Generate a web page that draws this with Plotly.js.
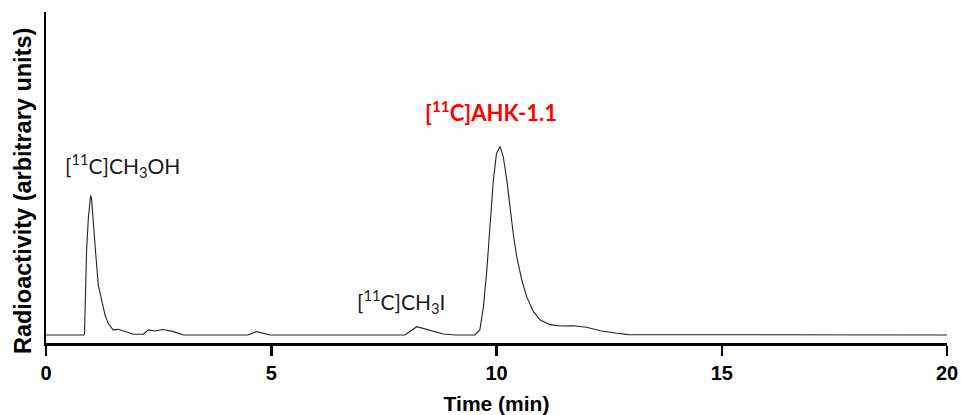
<!DOCTYPE html>
<html>
<head>
<meta charset="utf-8">
<script src="https://cdn.plot.ly/plotly-3.0.1.min.js"></script>
<style>html,body{margin:0;padding:0;background:#fff;}#chart{width:961px;height:415px;}</style>
</head>
<body>
<div id="chart"></div>
<script>
// Retention time (min)
var timeMin = [0, 0.84, 0.855, 0.90, 0.94, 0.99, 1.01, 1.05, 1.10, 1.16, 1.24, 1.31, 1.38, 1.49, 1.60, 1.75, 1.94, 2.16, 2.27, 2.42, 2.60, 2.83, 3.05,
  4.48, 4.68, 4.97, 7.97, 8.23, 8.52, 8.82, 9.08, 9.52, 9.63, 9.71, 9.78, 9.86, 9.93, 10.00, 10.08, 10.15, 10.23, 10.30, 10.37, 10.45, 10.56, 10.67, 10.82,
  10.97, 11.19, 11.41, 11.70, 12.00, 12.30, 12.67, 12.93, 20];
// Radioactivity (arbitrary units)
var radioactivity = [0, 0, 0.5, 44.3, 62.2, 74.1, 72.9, 62.2, 44.3, 26.6, 17.7, 10.6, 6.2, 2.7, 3.0, 1.8, 0.4, 0.4, 2.7, 2.1, 2.9, 1.8, 0,
  0, 1.8, 0, 0, 4.4, 2.3, 0.5, 0, 0, 2.7, 15.1, 32.8, 59.4, 82.4, 96.6, 100.2, 94.8, 82.4, 68.2, 54.1, 41.6, 29.3, 20.4, 12.4,
  8.0, 5.5, 4.8, 4.9, 4.1, 2.3, 0.9, 0.2, 0];
// Peak labels
var labelText = ['[<sup>11</sup>C]CH<sub>3</sub>OH', '[<sup>11</sup>C]CH<sub>3</sub>I', '<b>[<sup>11</sup>C]AHK-1.1</b>'];
var labelTime = [0.38, 6.86, 8.37];
var labelValue = [90.4, 17.6, 119];
var labelSize = [21, 21, 22];
var labelColor = ['#1a1a1a', '#1a1a1a', '#ff0000'];
var xTickVals = [0, 5, 10, 15, 20];
var xTitle = 'Time (min)';
var yTitle = 'Radioactivity (arbitrary units)';

var trace = {
  x: timeMin, y: radioactivity, type: 'scatter', mode: 'lines',
  line: {color: '#222222', width: 1.1, shape: 'linear'},
  hoverinfo: 'x+y', showlegend: false
};

var annotations = labelText.map(function (t, i) {
  return {
    x: labelTime[i], y: labelValue[i], xref: 'x', yref: 'y', text: t, showarrow: false,
    xanchor: 'left', yanchor: 'middle',
    font: {family: 'Lato, "Noto Sans", sans-serif', size: labelSize[i], color: labelColor[i]}
  };
});
// y-axis title (placed as a rotated annotation to match the reference's vertical offset)
annotations.push({
  x: -0.0255, y: 0.459, xref: 'paper', yref: 'paper', text: '<b>' + yTitle + '</b>', showarrow: false,
  textangle: -90, xanchor: 'center', yanchor: 'middle',
  font: {family: 'Arial, "Liberation Sans", sans-serif', size: 23.5, color: '#000'}
});

var layout = {
  width: 961, height: 415,
  margin: {l: 46, r: 14, t: 12, b: 72},
  paper_bgcolor: '#ffffff', plot_bgcolor: '#ffffff',
  xaxis: {
    range: [0, 20], tickmode: 'array', tickvals: xTickVals,
    showgrid: false, zeroline: false, showline: true, linecolor: '#000', linewidth: 2.5,
    ticks: 'outside', ticklen: 10, tickwidth: 2.5, tickcolor: '#000',
    tickfont: {family: 'Arial, "Liberation Sans", sans-serif', size: 20, color: '#000', weight: 'bold'},
    title: {text: '<b>' + xTitle + '</b>', standoff: 14, font: {family: 'Arial, "Liberation Sans", sans-serif', size: 21, color: '#000'}},
    automargin: false
  },
  yaxis: {
    range: [-4.26, 171.8], showticklabels: false, ticks: '',
    showgrid: false, zeroline: false, showline: true, linecolor: '#000', linewidth: 2.5,
    title: {text: ''},
    automargin: false
  },
  annotations: annotations
};

Plotly.newPlot('chart', [trace], layout, {displayModeBar: false, staticPlot: true});
</script>
</body>
</html>
